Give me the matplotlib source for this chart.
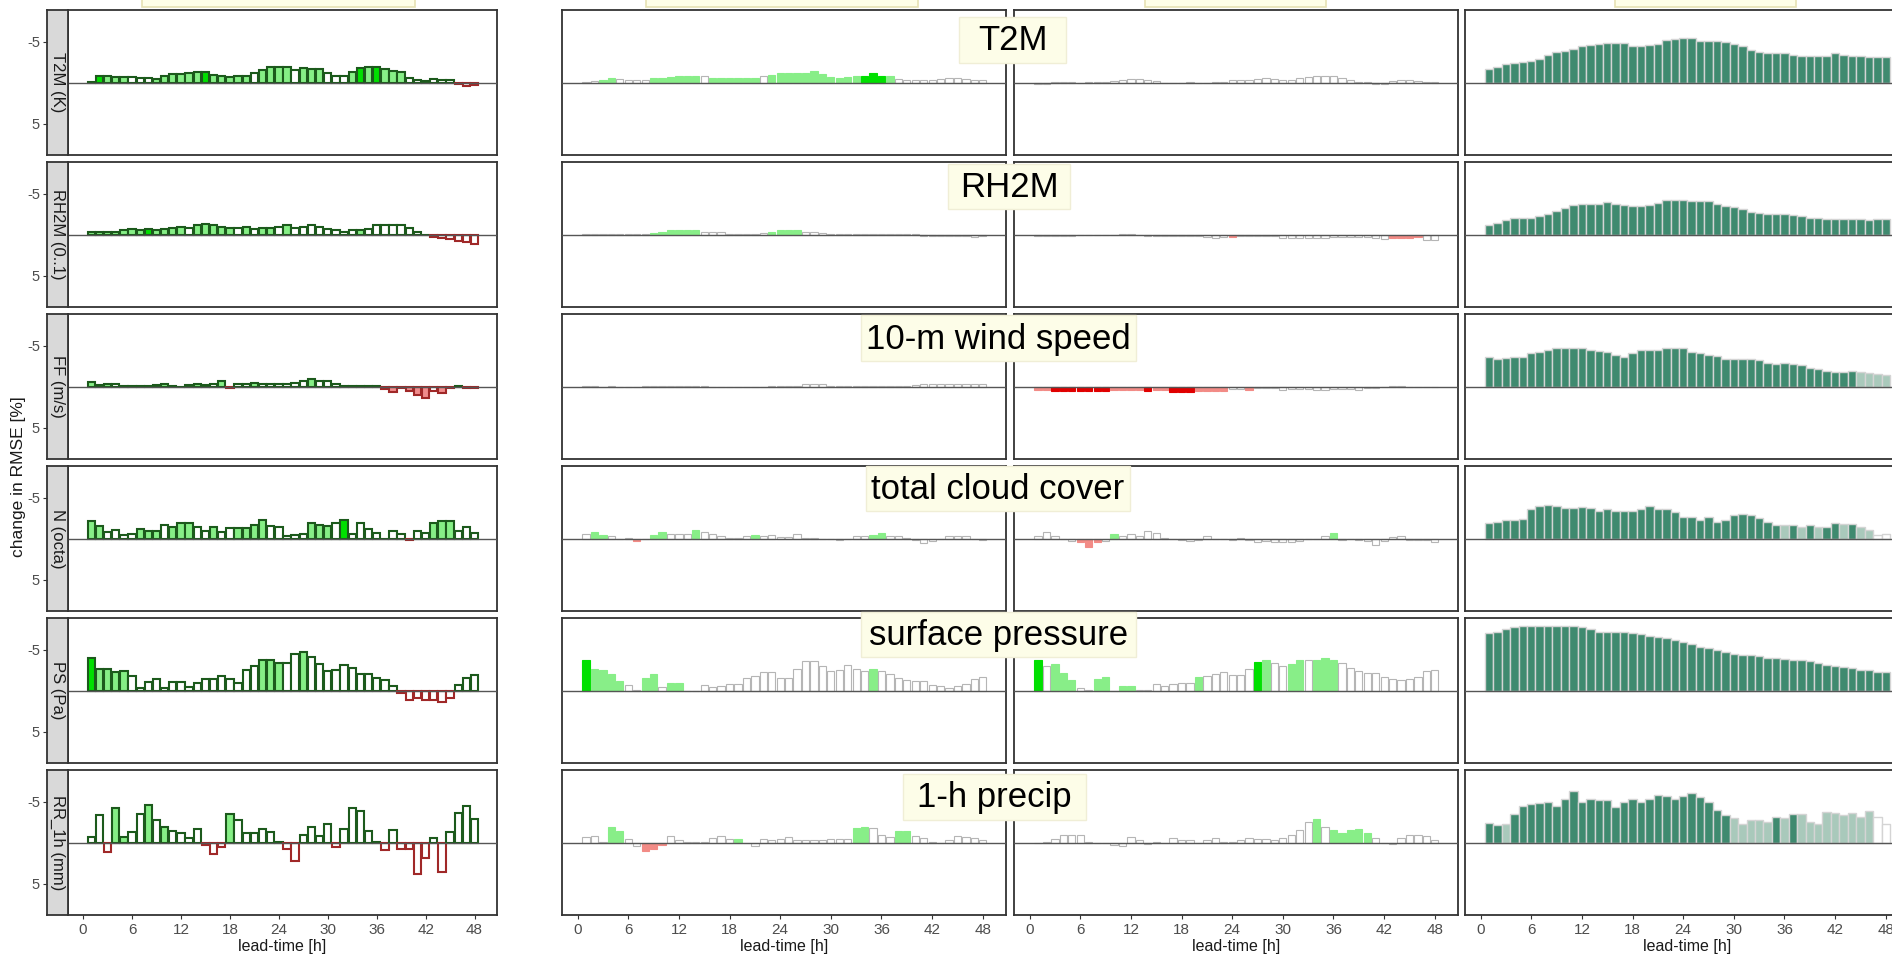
import matplotlib
matplotlib.use("Agg")
import matplotlib.pyplot as plt
from matplotlib.patches import Rectangle

plt.rcParams["font.family"] = ["Liberation Sans", "DejaVu Sans"]

LEAD = list(range(1, 49))
XTICKS = list(range(0, 49, 6))

STRIP_LABELS = ["T2M (K)", "RH2M (0..1)", "FF (m/s)", "N (octa)", "PS (Pa)", "RR_1h (mm)"]
VAR_TITLES = ["T2M", "RH2M", "10-m wind speed", "total cloud cover", "surface pressure", "1-h precip"]

# change in RMSE [%] per lead time; columns a..d, one list per variable
# significance codes: w none, l weak, G strong (improvement), r/R/D (degradation),
# d/L for the dark/light shading of the last column
t2m_a = [-0.15, -0.8, -0.9, -0.7, -0.7, -0.7, -0.55, -0.55, -0.45, -0.9,
         -1.05, -1.05, -1.2, -1.35, -1.35, -1.0, -0.85, -0.7, -0.85, -0.85,
         -1.2, -1.6, -1.9, -1.9, -1.9, -1.6, -1.8, -1.65, -1.65, -1.15,
         -0.85, -0.85, -1.35, -1.8, -1.9, -1.9, -1.65, -1.45, -1.35, -0.55,
         -0.3, -0.2, -0.45, -0.3, -0.3, 0.12, 0.4, 0.2]
t2m_a_sig = "lGlllwwwll" "llllGlllll" "wllllwlllw" "wwlGlGlllw" "wwwwwrrr"
t2m_b = [-0.1, -0.25, -0.4, -0.55, -0.5, -0.35, -0.35, -0.4, -0.55, -0.65,
         -0.75, -0.8, -0.8, -0.8, -0.8, -0.65, -0.55, -0.65, -0.65, -0.65,
         -0.65, -0.8, -1.0, -1.15, -1.15, -1.15, -1.25, -1.4, -1.05, -0.75,
         -0.65, -0.75, -0.9, -0.9, -1.15, -0.9, -0.8, -0.5, -0.4, -0.3,
         -0.3, -0.3, -0.5, -0.65, -0.55, -0.5, -0.4, -0.3]
t2m_b_sig = "wwllwwwwll" "llllwlllll" "lwllllllll" "lllGGGlwww" "wwwwwwww"
t2m_c = [0.1, 0.1, -0.1, -0.1, -0.1, 0.0, -0.1, -0.1, -0.15, -0.25,
         -0.4, -0.5, -0.5, -0.3, -0.25, 0.0, 0.0, 0.0, -0.1, 0.0,
         0.0, -0.1, -0.1, -0.3, -0.4, -0.3, -0.5, -0.55, -0.5, -0.3,
         -0.4, -0.65, -0.75, -0.8, -0.9, -0.8, -0.55, -0.3, -0.15, -0.1,
         0.1, 0.1, -0.25, -0.4, -0.4, -0.25, -0.1, -0.1]
t2m_c_sig = "wwwwwwwwww" "wwwwwwwwww" "wwwwwwwwww" "wwwwwwwwww" "wwwwwwww"
t2m_d = [-1.7, -2.0, -2.3, -2.45, -2.6, -2.7, -2.9, -3.4, -3.75, -3.9,
         -4.2, -4.45, -4.65, -4.75, -4.9, -4.9, -4.9, -4.55, -4.45, -4.65,
         -4.75, -5.2, -5.35, -5.5, -5.5, -5.15, -5.15, -5.15, -5.0, -4.75,
         -4.45, -4.05, -3.75, -3.6, -3.6, -3.6, -3.45, -3.3, -3.3, -3.3,
         -3.3, -3.6, -3.45, -3.3, -3.3, -3.15, -3.15, -3.15]
t2m_d_sig = "dddddddddd" "dddddddddd" "dddddddddd" "dddddddddd" "dddddddd"

rh2m_a = [-0.3, -0.4, -0.4, -0.4, -0.55, -0.7, -0.55, -0.7, -0.55, -0.7,
          -0.85, -1.0, -0.85, -1.2, -1.3, -1.2, -1.0, -0.85, -0.85, -1.0,
          -0.7, -0.85, -0.85, -1.0, -1.2, -0.85, -1.0, -1.2, -1.0, -0.75,
          -0.55, -0.4, -0.55, -0.55, -0.7, -1.15, -1.15, -1.15, -1.15, -0.85,
          -0.4, 0.0, 0.25, 0.4, 0.5, 0.7, 0.85, 1.05]
rh2m_a_sig = "lllllllGll" "llwlllllwl" "wllwlwwwww" "wwwlwwwwww" "wwRrrrrr"
rh2m_b = [-0.1, -0.1, -0.1, -0.1, -0.15, -0.15, -0.15, -0.15, -0.25, -0.3,
          -0.6, -0.6, -0.6, -0.6, -0.4, -0.4, -0.3, -0.15, -0.15, -0.15,
          -0.15, -0.25, -0.4, -0.55, -0.65, -0.55, -0.4, -0.4, -0.25, -0.15,
          -0.08, -0.08, -0.08, -0.08, -0.15, -0.08, -0.08, -0.08, -0.08, -0.08,
          0.08, 0.08, 0.08, 0.08, 0.08, 0.08, 0.2, 0.08]
rh2m_b_sig = "wwwwwwwwll" "llllwwwwww" "wwllllwwww" "wwwwwwwwww" "wwwwwwww"
rh2m_c = [0.08, 0.08, 0.08, 0.08, 0.08, 0.0, 0.0, 0.0, 0.0, 0.0,
          -0.1, -0.1, 0.0, 0.08, 0.15, 0.15, 0.15, 0.15, 0.15, 0.15,
          0.25, 0.4, 0.25, 0.3, 0.15, 0.15, 0.15, 0.15, 0.15, 0.4,
          0.4, 0.4, 0.4, 0.4, 0.4, 0.25, 0.25, 0.25, 0.25, 0.25,
          0.4, 0.55, 0.4, 0.4, 0.4, 0.3, 0.6, 0.6]
rh2m_c_sig = "wwwwwwwwww" "wwwwwwwwww" "wwwRwwwwww" "wwwwwwwwww" "wwRRRRww"
rh2m_d = [-1.15, -1.4, -1.8, -2.05, -2.05, -2.05, -2.3, -2.5, -2.95, -3.25,
          -3.6, -3.8, -3.8, -3.8, -4.0, -3.8, -3.65, -3.55, -3.55, -3.65,
          -3.95, -4.25, -4.25, -4.25, -4.1, -4.1, -4.1, -3.8, -3.55, -3.4,
          -3.15, -2.8, -2.7, -2.5, -2.5, -2.5, -2.4, -2.3, -2.1, -2.1,
          -1.95, -1.95, -1.95, -1.95, -1.95, -1.8, -1.95, -1.95]
rh2m_d_sig = "dddddddddd" "dddddddddd" "dddddddddd" "dddddddddd" "dddddddd"

ff_a = [-0.55, -0.25, -0.4, -0.3, -0.15, -0.1, -0.1, -0.1, -0.25, -0.4,
        -0.15, 0.0, -0.25, -0.4, -0.25, -0.3, -0.7, 0.15, -0.4, -0.3,
        -0.5, -0.4, -0.4, -0.3, -0.3, -0.5, -0.7, -1.0, -0.7, -0.7,
        -0.3, -0.1, -0.1, -0.1, -0.1, -0.1, 0.25, 0.6, 0.1, 0.45,
        0.95, 1.35, 0.45, 0.75, 0.15, -0.1, 0.1, 0.1]
ff_a_sig = "lwlwwwwwwl" "wwwlwwlRww" "lwwwwwwlww" "wwwwwwrRrR" "RRrRrwrr"
ff_b = [-0.15, -0.15, 0.0, -0.15, 0.0, 0.0, 0.0, -0.15, -0.15, -0.15,
        -0.15, -0.15, -0.15, -0.15, -0.15, 0.0, 0.0, 0.0, 0.0, 0.0,
        0.0, 0.0, -0.15, -0.15, -0.15, -0.15, -0.3, -0.3, -0.3, -0.15,
        -0.15, -0.15, -0.15, -0.15, -0.15, -0.15, -0.15, -0.15, -0.15, -0.25,
        -0.3, -0.4, -0.4, -0.3, -0.3, -0.3, -0.3, -0.3]
ff_b_sig = "wwwwwwwwww" "wwwwwwwwww" "wwwwwwwwww" "wwwwwwwwww" "wwwwwwww"
ff_c = [0.33, 0.33, 0.5, 0.5, 0.5, 0.5, 0.5, 0.5, 0.5, 0.4,
        0.4, 0.4, 0.4, 0.5, 0.4, 0.4, 0.65, 0.65, 0.65, 0.5,
        0.5, 0.5, 0.5, 0.3, 0.3, 0.33, 0.16, 0.16, 0.16, 0.4,
        0.25, 0.25, 0.25, 0.4, 0.4, 0.25, 0.25, 0.25, 0.4, 0.16,
        0.08, 0.0, -0.15, -0.08, 0.0, 0.0, 0.0, 0.0]
ff_c_sig = "RRDDDDDDDR" "RRRDRRDDDR" "RRRwwRwwww" "wwwwwwwwww" "wwwwwwww"
ff_d = [-3.6, -3.4, -3.55, -3.7, -3.7, -4.1, -4.25, -4.55, -4.7, -4.7,
        -4.7, -4.7, -4.55, -4.4, -4.25, -3.95, -3.65, -4.1, -4.45, -4.55,
        -4.55, -4.7, -4.7, -4.7, -4.25, -4.1, -3.95, -3.8, -3.4, -3.4,
        -3.4, -3.4, -3.25, -2.95, -2.8, -2.95, -2.8, -2.65, -2.35, -2.2,
        -1.95, -1.8, -1.8, -1.95, -1.85, -1.75, -1.6, -1.5]
ff_d_sig = "dddddddddd" "dddddddddd" "dddddddddd" "dddddddddd" "ddddLLLL"

n_a = [-2.2, -1.6, -0.85, -1.05, -0.5, -0.65, -1.2, -1.0, -1.0, -1.75,
       -1.45, -1.9, -1.9, -1.45, -1.0, -1.45, -0.85, -1.3, -1.3, -1.3,
       -1.75, -2.3, -1.6, -1.45, -0.35, -0.5, -0.6, -1.9, -1.75, -1.6,
       -1.9, -2.3, -0.6, -1.9, -1.2, -0.75, 0.0, -1.0, -0.6, 0.15,
       -1.0, -0.75, -1.9, -2.2, -2.2, -1.0, -1.45, -0.75]
n_a_sig = "llwwwwlllw" "lllwwlwwll" "llwwwwwlll" "wGwwwwwwwr" "wwlllwww"
n_b = [-0.55, -0.9, -0.5, -0.3, 0.0, -0.1, 0.2, 0.0, -0.5, -0.9,
       -0.65, -0.65, -0.65, -1.05, -0.9, -0.55, -0.3, -0.1, -0.1, -0.3,
       -0.45, -0.3, -0.5, -0.2, -0.2, -0.55, -0.1, -0.1, 0.0, 0.0,
       0.1, 0.0, -0.3, -0.3, -0.45, -0.75, -0.3, -0.3, -0.1, 0.1,
       0.45, 0.25, 0.0, -0.35, -0.35, -0.3, 0.0, 0.1]
n_b_sig = "wllwwwRwll" "wwwlwwwwww" "lwwwwwwwww" "wwwwllwwww" "wwwwwwww"
n_c = [-0.3, -0.9, -0.3, 0.0, 0.2, 0.4, 0.95, 0.4, 0.2, -0.6,
       -0.3, -0.55, -0.4, -1.0, -0.75, -0.1, 0.0, 0.1, 0.25, 0.1,
       -0.3, 0.0, 0.0, 0.15, -0.1, 0.1, 0.4, 0.25, 0.4, 0.4,
       0.4, 0.25, 0.0, 0.0, -0.4, -0.75, 0.1, 0.0, 0.1, 0.25,
       0.7, 0.25, -0.2, -0.3, 0.1, 0.1, 0.1, 0.4]
n_c_sig = "wwwwwRRRwl" "wwwwwwwwww" "wwwwwwwwww" "wwwwwlwwww" "wwwwwwww"
n_d = [-1.95, -2.1, -2.3, -2.3, -2.45, -3.6, -4.0, -4.15, -4.0, -3.8,
       -3.8, -3.95, -3.8, -3.4, -3.6, -3.4, -3.4, -3.4, -3.6, -4.0,
       -3.6, -3.6, -3.25, -2.7, -2.7, -2.3, -2.7, -2.05, -2.25, -2.9,
       -3.05, -2.9, -2.5, -2.05, -1.65, -1.65, -1.65, -1.45, -1.65, -1.45,
       -1.45, -1.95, -1.85, -1.85, -1.45, -1.05, -0.5, -0.55]
n_d_sig = "dddddddddd" "dddddddddd" "dddddddddd" "dddddLdLdL" "ddLdLLww"

ps_a = [-4.0, -2.65, -2.65, -2.3, -2.45, -1.85, -0.3, -1.1, -1.4, -0.3,
        -1.1, -1.1, -0.5, -0.95, -1.5, -1.5, -1.85, -1.4, -1.0, -2.55,
        -3.0, -3.8, -3.8, -3.4, -3.4, -4.55, -4.7, -4.15, -3.25, -2.4,
        -2.55, -3.15, -2.85, -2.05, -2.1, -1.55, -1.3, -0.55, 0.25, 1.05,
        0.9, 1.05, 1.05, 1.3, 0.9, -0.7, -1.6, -2.0]
ps_a_sig = "Gllllwwwww" "wwwwwwwwww" "wlllwwlwww" "wwwwwwwwrr" "rrrrrwww"
ps_b = [-3.8, -2.7, -2.55, -2.05, -1.25, -0.7, -0.15, -1.55, -2.05, -0.5,
        -0.95, -0.95, 0.0, 0.0, -0.7, -0.45, -0.55, -0.8, -0.8, -1.6,
        -1.85, -2.3, -2.3, -1.55, -1.55, -2.7, -3.6, -3.6, -3.0, -2.4,
        -2.55, -3.15, -2.7, -2.4, -2.7, -2.4, -2.1, -1.55, -1.3, -1.15,
        -1.15, -0.75, -0.55, -0.35, -0.55, -0.85, -1.4, -1.65]
ps_b_sig = "Gllllwwllw" "llwwwwwwww" "wwwwwwwwww" "wwwwlwwwww" "wwwwwwww"
ps_c = [-3.8, -3.1, -3.25, -2.2, -1.3, -0.4, -0.15, -1.45, -1.7, 0.0,
        -0.65, -0.65, -0.1, -0.1, -0.85, -0.55, -0.85, -1.0, -1.0, -1.65,
        -1.85, -2.05, -2.25, -2.0, -2.0, -2.7, -3.5, -3.8, -3.4, -3.0,
        -3.25, -3.8, -3.75, -3.8, -4.0, -3.8, -3.4, -2.85, -2.45, -2.2,
        -2.2, -1.65, -1.4, -1.3, -1.5, -1.65, -2.4, -2.55]
ps_c_sig = "Gwlllwwllw" "llwwwwwwwl" "wwwwwwGlww" "llwlllwwww" "wwwwwwww"
ps_d = [-7.1, -7.25, -7.5, -7.8, -7.95, -7.95, -7.95, -7.95, -7.95, -7.95,
        -7.95, -7.8, -7.5, -7.25, -7.25, -7.25, -7.25, -7.05, -6.95, -6.7,
        -6.55, -6.4, -6.2, -5.95, -5.7, -5.4, -5.25, -4.95, -4.8, -4.55,
        -4.4, -4.4, -4.25, -4.05, -4.05, -3.9, -3.8, -3.8, -3.65, -3.4,
        -3.2, -3.05, -2.9, -2.75, -2.6, -2.5, -2.3, -2.25]
ps_d_sig = "dddddddddd" "dddddddddd" "dddddddddd" "dddddddddd" "dddddddd"

rr_a = [-0.75, -3.35, 1.15, -4.3, -0.75, -1.3, -3.5, -4.65, -2.75, -2.0,
        -1.45, -1.15, -0.55, -1.75, 0.2, 1.3, 0.55, -3.5, -2.75, -1.15,
        -1.25, -1.75, -1.3, -0.15, 0.7, 2.25, -1.0, -2.0, -0.9, -2.3,
        0.5, -1.75, -4.3, -3.9, -1.45, -0.15, 0.9, -1.6, 0.75, 0.75,
        3.8, 1.9, -0.55, 3.6, -1.3, -3.6, -4.45, -2.9]
rr_a_sig = "wwrllwwlwl" "wwwwrrrlww" "wwwwrrwwww" "rwwwwwrwrr" "rrwrwwww"
rr_b = [-0.7, -0.85, -0.15, -2.0, -1.4, -0.45, 0.4, 1.0, 0.8, 0.25,
        -0.85, -0.3, -0.1, -0.1, -0.1, -0.55, -0.85, -0.45, -0.45, 0.0,
        0.4, -0.45, -0.3, -0.45, -0.75, -0.3, -0.4, -0.4, -0.4, -0.5,
        -0.5, -0.5, -1.85, -2.0, -1.85, -1.0, -0.75, -1.4, -1.4, -0.85,
        -0.55, -0.15, 0.0, -0.3, -0.85, -0.75, -0.55, -0.4]
rr_b_sig = "wwwllwwRRR" "wwwwwwwwlw" "wwwwwwwwww" "wwllwwwllw" "wwwwwwww"
rr_c = [0.0, -0.1, -0.5, -1.0, -0.95, -1.0, -0.1, 0.0, 0.0, 0.25,
        0.4, -0.7, -0.35, 0.1, -0.1, 0.0, -0.55, -0.3, -0.3, 0.0,
        -0.3, -0.55, -0.15, -0.15, -0.3, -0.55, -0.45, -0.45, -0.3, -0.55,
        -1.0, -1.55, -2.5, -2.9, -2.0, -1.55, -1.15, -1.55, -1.7, -1.25,
        -0.55, 0.0, 0.1, -0.55, -1.0, -1.0, -0.85, -0.3]
rr_c_sig = "wwwwwwwwww" "wwwwwwwwww" "wwwwwwwwww" "wwwlwlllll" "wwwwwwww"
rr_d = [-2.45, -2.2, -2.3, -3.55, -4.5, -4.7, -4.85, -5.0, -4.45, -5.35,
        -6.3, -4.95, -5.35, -5.25, -5.25, -4.35, -5.0, -5.3, -4.95, -5.35,
        -5.85, -5.7, -5.35, -5.7, -6.15, -5.55, -5.0, -4.0, -3.35, -3.05,
        -2.3, -2.75, -2.75, -2.6, -3.2, -3.05, -3.55, -3.55, -2.5, -2.3,
        -3.8, -3.65, -3.35, -3.65, -3.15, -3.9, -3.15, -2.25]
rr_d_sig = "ddLddddddd" "dddddddddd" "dddddddddL" "LLLLdLdLLL" "LLLLLLww"

ROWS = [
    [(t2m_a, t2m_a_sig), (t2m_b, t2m_b_sig), (t2m_c, t2m_c_sig), (t2m_d, t2m_d_sig)],
    [(rh2m_a, rh2m_a_sig), (rh2m_b, rh2m_b_sig), (rh2m_c, rh2m_c_sig), (rh2m_d, rh2m_d_sig)],
    [(ff_a, ff_a_sig), (ff_b, ff_b_sig), (ff_c, ff_c_sig), (ff_d, ff_d_sig)],
    [(n_a, n_a_sig), (n_b, n_b_sig), (n_c, n_c_sig), (n_d, n_d_sig)],
    [(ps_a, ps_a_sig), (ps_b, ps_b_sig), (ps_c, ps_c_sig), (ps_d, ps_d_sig)],
    [(rr_a, rr_a_sig), (rr_b, rr_b_sig), (rr_c, rr_c_sig), (rr_d, rr_d_sig)],
]

# fill colours per significance code
FILL_A = {"w": "white", "l": "#86ef86", "G": "#00e000", "r": "white", "R": "#f08c8c"}
FILL_BC = {"w": "white", "l": "#88ee88", "G": "#00e000", "r": "white",
           "R": "#f28b86", "D": "#e00000"}
FILL_D = {"d": "#3f8a6f", "L": "#a9c9bb", "w": "white"}

W, H = 1892, 960
ROW_TOPS = [10, 162, 314, 466, 618, 770]
PANEL_H = 145
COL_X = [(68, 497), (562, 1006), (1014, 1458), (1465, 1909)]
XLIM = (-1.85, 50.75)
YLIM = (8.8, -8.9)

fig = plt.figure(figsize=(W / 100, H / 100), dpi=100)


def fig_box(x0, y0, x1, y1):
    # pixel box (y measured from the top) -> figure fraction rect
    return [x0 / W, 1 - y1 / H, (x1 - x0) / W, (y1 - y0) / H]


def style_frame(ax):
    for sp in ax.spines.values():
        sp.set_color("#333333")
        sp.set_linewidth(1.3)


def bar_styles(vals, sig, col):
    faces, edges = [], []
    for v, s in zip(vals, sig):
        if col == 0:
            faces.append(FILL_A[s])
            edges.append("#1c5a1c" if v <= 0 else "#a02828")
        elif col == 3:
            faces.append(FILL_D[s])
            edges.append("#d4d4d4")
        else:
            faces.append(FILL_BC[s])
            edges.append("#b5b5b5" if s in "wr" else FILL_BC[s])
    return faces, edges


for r, row in enumerate(ROWS):
    top = ROW_TOPS[r]
    for c, (vals, sig) in enumerate(row):
        x0, x1 = COL_X[c]
        ax = fig.add_axes(fig_box(x0, top, x1, top + PANEL_H))
        faces, edges = bar_styles(vals, sig, c)
        if c == 0:
            width, lw = 0.9, 1.5
        elif c == 3:
            width, lw = 1.0, 1.0
        else:
            width, lw = 0.86, 0.8
        ax.bar(LEAD, vals, width=width, color=faces, edgecolor=edges,
               linewidth=lw, zorder=2)
        ax.axhline(0, color="#555555", lw=1.0, zorder=3)
        ax.set_xlim(*XLIM)
        ax.set_ylim(*YLIM)
        ax.set_yticks([])
        style_frame(ax)
        if r == len(ROWS) - 1:
            ax.set_xticks(XTICKS)
            ax.set_xticklabels([str(t) for t in XTICKS])
            ax.tick_params(axis="x", length=3, width=0.8, color="#333333",
                           labelsize=11, labelcolor="#4d4d4d", pad=3)
            ax.set_xlabel("lead-time [h]", fontsize=11.5, color="#1a1a1a", labelpad=1)
        else:
            ax.set_xticks([])

        if c == 0:
            sx = fig.add_axes(fig_box(47, top, 68, top + PANEL_H))
            sx.set_facecolor("#d9d9d9")
            sx.set_ylim(*YLIM)
            sx.set_xticks([])
            sx.set_yticks([-5, 5])
            sx.set_yticklabels(["-5", "5"])
            sx.tick_params(axis="y", length=3, width=0.8, color="#333333",
                           labelsize=10.5, labelcolor="#4d4d4d", pad=2)
            style_frame(sx)
            sx.text(0.5, 0.5, STRIP_LABELS[r], rotation=-90, transform=sx.transAxes,
                    ha="center", va="center", fontsize=12, color="#1a1a1a")

# cut-off header boxes along the top edge
for bx0, bx1 in [(142, 415), (646, 918), (1145, 1326), (1615, 1796)]:
    fig.add_artist(Rectangle((bx0 / W, 1 - 7 / H), (bx1 - bx0) / W, 12 / H,
                             transform=fig.transFigure, facecolor="#fefee8",
                             edgecolor="#e6e2b4", lw=1.2))

# variable name boxes between the middle columns
label_boxes = [(959, 17, 1066, 63), (948, 164, 1070, 209), (861, 315, 1136, 361),
               (866, 466, 1130, 511), (861, 612, 1136, 657), (903, 774, 1086, 820)]
for name, (bx0, by0, bx1, by1) in zip(VAR_TITLES, label_boxes):
    fig.add_artist(Rectangle((bx0 / W, 1 - by1 / H), (bx1 - bx0) / W, (by1 - by0) / H,
                             transform=fig.transFigure, facecolor="#fdfde8",
                             edgecolor="#f0eed6", lw=1.0, zorder=5))
    fig.text((bx0 + bx1) / 2 / W, 1 - ((by0 + by1) / 2 + 1) / H, name,
             ha="center", va="center", fontsize=25, color="black", zorder=6)

fig.text(18 / W, 1 - 477 / H, "change in RMSE [%]", rotation=90,
         ha="center", va="center", fontsize=12.5, color="#1a1a1a")

fig.savefig("out.png", dpi=100, facecolor="white")
